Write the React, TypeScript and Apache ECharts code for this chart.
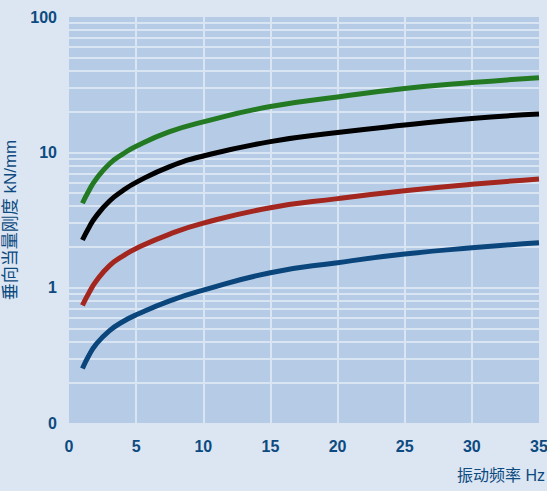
import React, { useEffect, useRef } from "react";
import * as echarts from "echarts";

const freqs = [1, 1.5, 2, 3, 4, 5, 7.5, 10, 15, 20, 25, 30, 35];
const greenVals = [4.2, 5.25, 6.3, 8.2, 9.7, 11.1, 14.2, 16.8, 21.8, 25.6, 29.6, 32.8, 35.6];
const blackVals = [2.25, 2.8, 3.35, 4.35, 5.2, 6.0, 7.85, 9.4, 12.0, 14.0, 15.9, 17.8, 19.2];
const redVals = [0.74, 0.92, 1.11, 1.45, 1.71, 1.95, 2.49, 3.0, 3.9, 4.55, 5.2, 5.8, 6.35];
const blueVals = [0.253, 0.318, 0.38, 0.48, 0.56, 0.63, 0.8, 0.96, 1.29, 1.53, 1.77, 1.97, 2.15];
const minorLines = [
  0.2, 0.3, 0.4, 0.5, 0.6, 0.7, 0.8, 0.9,
  2, 3, 4, 5, 6, 7, 8, 9,
  20, 30, 40, 50, 60, 70, 80, 90,
];
const xName = "振动频率 Hz";
const yName = "垂向当量刚度 kN/mm";

const labelColor = "#0d4a80";
const gridLineColor = "#d9e5f3";
const boldFont = "'Liberation Sans', Arial, sans-serif";
const cjkFont = "'Liberation Sans', 'Noto Sans CJK SC', sans-serif";

const curves = [
  { name: "A", vals: greenVals, color: "#237a23" },
  { name: "B", vals: blackVals, color: "#000000" },
  { name: "C", vals: redVals, color: "#a3261f" },
  { name: "D", vals: blueVals, color: "#0a467c" },
];

export default function App() {
  const ref = useRef<HTMLDivElement>(null);
  useEffect(() => {
    if (!ref.current) return;
    const chart = echarts.init(ref.current, undefined, { renderer: "svg" });
    const option: any = {
      animation: false,
      backgroundColor: "#dce6f3",
      grid: {
        left: 69,
        top: 17,
        right: 8,
        bottom: 68,
        show: true,
        backgroundColor: "#b6cce6",
        borderWidth: 0,
        containLabel: false,
        outerBoundsMode: "none",
      },
      xAxis: {
        type: "value",
        min: 0,
        max: 35,
        interval: 5,
        axisLine: { show: false },
        axisTick: { show: false },
        splitLine: {
          show: true,
          showMinLine: false,
          showMaxLine: false,
          lineStyle: { color: gridLineColor, width: 2 },
        },
        axisLabel: {
          margin: 15,
          fontSize: 16,
          fontWeight: "bold",
          fontFamily: boldFont,
          color: labelColor,
        },
      },
      yAxis: {
        type: "log",
        logBase: 10,
        min: 0.1,
        max: 100,
        axisLine: { show: false },
        axisTick: { show: false },
        splitLine: {
          show: true,
          showMinLine: false,
          showMaxLine: false,
          lineStyle: { color: gridLineColor, width: 2 },
        },
        axisLabel: {
          margin: 12,
          fontSize: 16,
          fontWeight: "bold",
          fontFamily: boldFont,
          color: labelColor,
          formatter: (v: number) => (v < 0.5 ? "0" : String(Math.round(v))),
        },
        name: yName,
        nameLocation: "middle",
        nameRotate: 90,
        nameGap: 45,
        nameTextStyle: {
          fontSize: 17,
          fontFamily: cjkFont,
          color: labelColor,
        },
      },
      graphic: [
        {
          type: "text",
          right: 2,
          top: 467,
          style: {
            text: xName,
            fontSize: 16,
            fontFamily: cjkFont,
            fill: labelColor,
          },
        },
      ],
      series: [
        {
          type: "line",
          data: [],
          z: 1,
          silent: true,
          markLine: {
            silent: true,
            symbol: "none",
            label: { show: false },
            lineStyle: { color: gridLineColor, width: 2, type: "solid" },
            data: minorLines.map((v) => ({ yAxis: v })),
          },
        },
        ...curves.map((c) => ({
          type: "line",
          name: c.name,
          z: 5,
          smooth: 0.5,
          showSymbol: false,
          symbol: "none",
          data: freqs.map((f, i) => [f, c.vals[i]]),
          lineStyle: { color: c.color, width: 5, cap: "butt" },
          itemStyle: { color: c.color },
        })),
      ],
    };
    chart.setOption(option);
    return () => chart.dispose();
  }, []);
  return <div ref={ref} style={{ width: 547, height: 491, position: "absolute", left: 0, top: 0 }} />;
}
